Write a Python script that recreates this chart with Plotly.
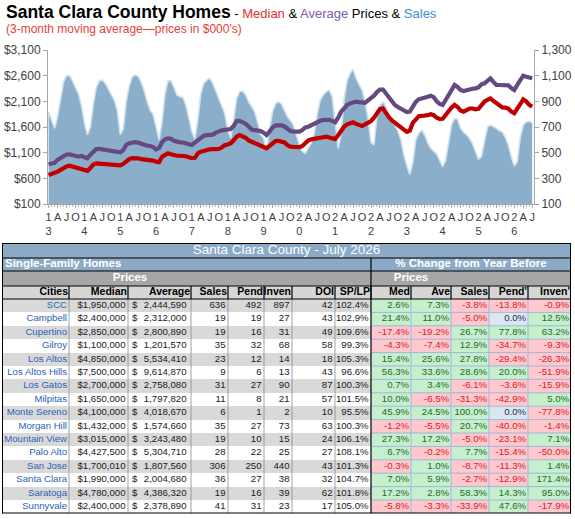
import plotly.graph_objects as go
from itertools import accumulate

# ---------------- chart data: 3-month moving averages, Jan 2003 - Jul 2016 ----------------
median_k = [
    665, 680, 700, 730, 765, 800, 830, 845, 830, 795, 780, 775,
    755, 745, 800, 870, 893, 890, 885, 875, 865, 860, 862, 860,
    855, 880, 940, 975, 995, 1002, 990, 975, 970, 965, 957, 945,
    925, 915, 1020, 1060, 1088, 1070, 1045, 1040, 1040, 1040, 1030, 1010,
    992, 1000, 1088, 1120, 1140, 1152, 1165, 1170, 1170, 1171, 1200, 1245,
    1260, 1282, 1340, 1410, 1444, 1420, 1390, 1340, 1310, 1285, 1260, 1240,
    1210, 1185, 1240, 1300, 1327, 1330, 1325, 1300, 1250, 1216, 1212, 1210,
    1208, 1230, 1300, 1340, 1360, 1365, 1370, 1385, 1400, 1412, 1395, 1370,
    1366, 1440, 1540, 1610, 1652, 1680, 1691, 1660, 1630, 1619, 1652, 1690,
    1717, 1780, 1870, 1950, 1960, 1870, 1790, 1730, 1690, 1650, 1600, 1550,
    1505, 1530, 1680, 1760, 1810, 1815, 1815, 1830, 1850, 1830, 1780, 1756,
    1760, 1840, 1898, 1980, 2030, 1990, 1920, 1898, 1930, 1960, 1960, 1945,
    1955, 2030, 2093, 2130, 2158, 2110, 2060, 2010, 1980, 1977, 1960, 1900,
    1867, 1960, 2060, 2139, 2100, 2030, 1996,
]
average_k = [
    873, 880, 900, 960, 990, 1030, 1065, 1068, 1050, 1025, 1022, 1035,
    1010, 990, 1060, 1120, 1171, 1175, 1165, 1150, 1140, 1132, 1125, 1115,
    1107, 1150, 1249, 1285, 1302, 1305, 1295, 1270, 1255, 1236, 1230, 1210,
    1160, 1190, 1302, 1360, 1380, 1370, 1330, 1310, 1302, 1298, 1290, 1265,
    1249, 1300, 1347, 1400, 1431, 1440, 1444, 1450, 1490, 1522, 1535, 1545,
    1555, 1561, 1620, 1717, 1720, 1690, 1665, 1610, 1550, 1540, 1535, 1522,
    1490, 1444, 1510, 1590, 1630, 1639, 1630, 1610, 1560, 1522, 1510, 1509,
    1509, 1540, 1590, 1606, 1640, 1672, 1700, 1720, 1736, 1740, 1740, 1720,
    1691, 1780, 1900, 1960, 2030, 2061, 2080, 2093, 2085, 2070, 2070, 2120,
    2158, 2210, 2280, 2330, 2330, 2250, 2160, 2080, 2029, 1990, 1964, 1930,
    1890, 1900, 2010, 2090, 2140, 2150, 2160, 2190, 2210, 2180, 2100, 2050,
    2029, 2130, 2256, 2350, 2418, 2380, 2320, 2301, 2320, 2340, 2345, 2353,
    2370, 2430, 2451, 2500, 2548, 2480, 2418, 2418, 2418, 2418, 2410, 2360,
    2321, 2420, 2530, 2599, 2580, 2560, 2548,
]
sales_3mma = [
    819, 745, 690, 780, 925, 1050, 1100, 1100, 1060, 1010, 960, 870,
    730, 640, 700, 880, 1010, 1060, 1066, 1040, 1000, 960, 910, 830,
    640, 680, 900, 1020, 1090, 1105, 1095, 1050, 985, 900, 830, 800,
    700, 600, 740, 960, 1060, 1060, 1010, 950, 936, 930, 870, 767,
    660, 605, 760, 960, 1040, 1066, 1079, 1040, 980, 923, 860, 806,
    676, 612, 760, 923, 975, 980, 950, 895, 860, 819, 740, 640,
    612, 521, 680, 819, 880, 897, 880, 830, 780, 750, 715, 640,
    560, 510, 495, 540, 575, 650, 800, 910, 950, 975, 988, 936,
    720, 534, 650, 920, 1060, 1118, 1150, 1080, 1030, 990, 900, 767,
    580, 560, 780, 870, 897, 860, 780, 740, 715, 670, 600, 480,
    400, 330, 420, 600, 650, 676, 640, 575, 534, 515, 490, 440,
    390, 440, 600, 720, 767, 760, 690, 660, 640, 610, 570, 510,
    450, 470, 600, 700, 715, 705, 690, 670, 660, 620, 560, 470,
    395, 430, 620, 715, 740, 745, 735,
]
quarter_tick_text = ["1", "A", "J", "O"] * 7 + ["2", "A", "J", "O"] * 6 + ["2", "A", "J"]
year_tick_text = ["3", "4", "5", "6", "7", "8", "9", "0", "1", "2", "3", "4", "5", "6"]
price_ticks = [100, 600, 1100, 1600, 2100, 2600, 3100]
price_tick_text = ["$100", "$600", "$1,100", "$1,600", "$2,100", "$2,600", "$3,100"]
sales_ticks = [100, 300, 500, 700, 900, 1100, 1300]
sales_tick_text = ["100", "300", "500", "700", "900", "1,100", "1,300"]

# ---------------- table data ----------------
table_title = "Santa Clara County - July 2026"
left_group = "Single-Family Homes"
right_group = "% Change from Year Before"
sub_group = "Prices"
col_headers = ["Cities", "Median", "Average", "Sales", "Pend", "Inven", "DOI", "SP/LP",
               "Med", "Ave", "Sales", "Pend'", "Inven'"]
cities = ["SCC", "Campbell", "Cupertino", "Gilroy", "Los Altos", "Los Altos Hills", "Los Gatos",
          "Milpitas", "Monte Sereno", "Morgan Hill", "Mountain View", "Palo Alto", "San Jose",
          "Santa Clara", "Saratoga", "Sunnyvale"]
median_price = [1950000, 2400000, 2850000, 1100000, 4850000, 7500000, 2700000, 1650000,
                4100000, 1432000, 3015000, 4427500, 1700010, 1990000, 4780000, 2400000]
average_price = [2444590, 2312000, 2800890, 1201570, 5534410, 9614870, 2758080, 1797820,
                 4018670, 1574660, 3243480, 5304710, 1807560, 2004680, 4386320, 2378890]
sales = [636, 19, 19, 35, 23, 9, 31, 11, 6, 35, 19, 28, 306, 36, 19, 41]
pend = [492, 19, 16, 32, 12, 6, 27, 8, 1, 27, 10, 22, 250, 27, 16, 31]
inven = [897, 27, 31, 68, 14, 13, 90, 21, 2, 73, 15, 25, 440, 38, 39, 23]
doi = [42, 43, 49, 58, 18, 43, 87, 57, 10, 63, 24, 27, 43, 32, 62, 17]
sp_lp = [102.4, 102.9, 109.6, 99.3, 105.3, 96.6, 100.3, 101.5, 95.5, 100.3, 106.1, 108.1,
         101.3, 104.7, 101.8, 105.0]
chg_med = [2.6, 21.4, -17.4, -4.3, 15.4, 56.3, 0.7, 10.0, 45.9, -1.2, 27.3, 6.7, -0.3, 7.0, 17.2, -5.8]
chg_ave = [7.3, 11.0, -19.2, -7.4, 25.6, 33.6, 3.4, -6.5, 24.5, -5.5, 17.2, -0.2, 1.0, 5.9, 2.8, -3.3]
chg_sales = [-3.8, -5.0, 26.7, 12.9, 27.8, 28.6, -6.1, -31.3, 100.0, 20.7, -5.0, 7.7, -8.7, -2.7, 58.3, -33.9]
chg_pend = [-13.8, 0.0, 77.8, -34.7, -29.4, 20.0, -3.6, -42.9, 0.0, -40.0, -23.1, -15.4, -11.3, -12.9, 14.3, 47.6]
chg_inven = [-0.9, 12.5, 63.2, -9.3, -26.3, -51.9, -15.9, 5.0, -77.8, -1.4, 7.1, -50.0, 1.4, 171.4, 95.0, -17.9]

# ---------------- layout constants ----------------
FW, FH = 575, 519
CH_L, CH_R, CH_T, CH_B = 48, 534, 50, 204          # chart plot box (px)
TBL_LEFT, TBL_TOP = 2, 243                           # table origin (px)
col_widths = [67, 59, 63, 37, 36, 28, 43, 36, 40, 40, 38, 39, 43]
row_heights = [15, 13, 15, 13] + [13.4] * len(cities)

FONT = "Liberation Sans, Arial, sans-serif"
AXIS_GRAY = "#A6A6A6"
TICK_COLOR = "#404040"
CELL_SIZE = 9.6


def fx(p):
    return p / FW


def fy(p):
    return 1 - p / FH


months = list(range(len(median_k)))
quarter_vals = months[::3]
year_vals = months[::12]

fig = go.Figure()

# sales area (primary y, drawn first so price lines sit on top)
fig.add_trace(go.Scatter(
    x=months, y=sales_3mma, mode="lines", fill="tozeroy", fillcolor="#8BAFCA",
    line=dict(color="#D3E3EE", width=1.6), xaxis="x", yaxis="y",
    hoverinfo="skip", showlegend=False))
fig.add_trace(go.Scatter(
    x=months, y=average_k, mode="lines", line=dict(color="#644A80", width=4.2),
    xaxis="x", yaxis="y2", hoverinfo="skip", showlegend=False))
fig.add_trace(go.Scatter(
    x=months, y=median_k, mode="lines", line=dict(color="#C00000", width=4.2),
    xaxis="x", yaxis="y2", hoverinfo="skip", showlegend=False))
# carrier trace for the year-label axis
fig.add_trace(go.Scatter(x=[year_vals[0]], y=[None], mode="markers", xaxis="x2", yaxis="y",
                         hoverinfo="skip", showlegend=False))

# ---------------- table (heatmap cells + text) ----------------
x_edges = [0] + list(accumulate(col_widths))
y_edges = [0] + list(accumulate(row_heights))
tbl_w, tbl_h = x_edges[-1], y_edges[-1]
n_cols = len(col_headers)
n_left = 8

palette = ["#FFFFFF", "#D9D9D9", "#D6D6D6", "#8CAAC5", "#C6EFCE", "#FFC7CE", "#DCE6F1", "#A6A6A6"]
nc = len(palette) - 1
cscale = []
for k, c in enumerate(palette):
    cscale.append([max(0.0, (k - 0.5) / nc), c])
    cscale.append([min(1.0, (k + 0.5) / nc), c])

changes = [chg_med, chg_ave, chg_sales, chg_pend, chg_inven]
z = [[3] * n_cols, [3] * n_cols, [7] * n_cols, [2] * n_cols]
for r in range(len(cities)):
    row = [1 if r % 2 == 0 else 0] * n_left
    for series in changes:
        v = series[r]
        row.append(4 if v > 0 else (5 if v < 0 else 6))
    z.append(row)

fig.add_trace(go.Heatmap(
    x=x_edges, y=y_edges, z=z, colorscale=cscale, zmin=0, zmax=nc, showscale=False,
    hoverinfo="skip", xaxis="x3", yaxis="y3"))


def seg_trace(segs, color, width):
    xs, ys = [], []
    for (x0, y0, x1, y1) in segs:
        xs += [x0, x1, None]
        ys += [y0, y1, None]
    return go.Scatter(x=xs, y=ys, mode="lines", line=dict(color=color, width=width),
                      xaxis="x3", yaxis="y3", hoverinfo="skip", showlegend=False,
                      cliponaxis=False)


top_data = y_edges[4]
blue_segs = [(x_edges[n_left], y, tbl_w, y) for y in y_edges[5:-1]]
blue_segs += [(x, top_data, x, tbl_h) for x in x_edges[n_left + 1:-1]]
fig.add_trace(seg_trace(blue_segs, "#9DB8D8", 1))
gray_segs = [(x, top_data, x, tbl_h) for x in x_edges[1:n_left]]
fig.add_trace(seg_trace(gray_segs, "#8C8C8C", 0.8))
black_segs = [(0, y, tbl_w, y) for y in y_edges[1:5]]
black_segs += [(x, y_edges[3], x, y_edges[4]) for x in x_edges[1:-1]]
black_segs += [(x_edges[n_left], y_edges[1], x_edges[n_left], tbl_h)]
fig.add_trace(seg_trace(black_segs, "#000000", 1.2))
fig.add_trace(seg_trace([(0, 0, tbl_w, 0), (tbl_w, 0, tbl_w, tbl_h),
                         (tbl_w, tbl_h, 0, tbl_h), (0, tbl_h, 0, 0)], "#000000", 2))

yc = [(y_edges[k] + y_edges[k + 1]) / 2 for k in range(len(row_heights))]


def text_trace(xs, ys, texts, colors, size, family, position):
    return go.Scatter(x=xs, y=ys, text=texts, mode="text", textposition=position,
                      textfont=dict(color=colors, size=size, family=family),
                      xaxis="x3", yaxis="y3", hoverinfo="skip", showlegend=False,
                      cliponaxis=False)


fig.add_trace(text_trace([tbl_w / 2], [yc[0]], [table_title], "#FFFFFF", 13.5, FONT, "middle center"))
fig.add_trace(text_trace([3], [yc[1]], ["<b>" + left_group + "</b>"], "#FFFFFF", 11.5, FONT, "middle right"))
fig.add_trace(text_trace([(x_edges[n_left] + tbl_w) / 2], [yc[1]], ["<b>" + right_group + "</b>"],
                         "#FFFFFF", 11.5, FONT, "middle center"))
fig.add_trace(text_trace([(x_edges[1] + x_edges[3]) / 2, (x_edges[n_left] + x_edges[n_left + 2]) / 2],
                         [yc[2], yc[2]], ["<b>" + sub_group + "</b>"] * 2, "#FFFFFF", 11.5, FONT,
                         "middle center"))
fig.add_trace(text_trace([x_edges[c + 1] - 1 for c in range(n_cols)], [yc[3]] * n_cols,
                         ["<b>" + h + "</b>" for h in col_headers], "#000000", 10.5, FONT, "middle left"))

city_x, city_y, num_x, num_y, num_t = [], [], [], [], []
chg_x, chg_y, chg_t, chg_c = [], [], [], []
dol_x, dol_y = [], []
for r in range(len(cities)):
    y = yc[4 + r]
    city_x.append(x_edges[1] - 2)
    city_y.append(y)
    vals = [
        "$" + f"{median_price[r]:,}",
        f"{average_price[r]:,}",
        str(sales[r]), str(pend[r]), str(inven[r]), str(doi[r]),
        f"{sp_lp[r]:.1f}%",
    ]
    for j, t in enumerate(vals):
        num_x.append(x_edges[j + 2] - (4.5 if j == 1 else 2.5))
        num_y.append(y)
        num_t.append(t)
    dol_x.append(x_edges[2] + 4)
    dol_y.append(y)
    for j, series in enumerate(changes):
        v = series[r]
        chg_x.append(x_edges[n_left + j + 1] - 2)
        chg_y.append(y)
        chg_t.append(f"{v:.1f}%")
        chg_c.append("#1E6B25" if v > 0 else ("#D42424" if v < 0 else "#1F2F4F"))

fig.add_trace(text_trace(city_x, city_y, cities, "#2C62B5", CELL_SIZE, FONT, "middle left"))
fig.add_trace(text_trace(num_x, num_y, num_t, "#1A1A1A", CELL_SIZE, FONT, "middle left"))
fig.add_trace(text_trace(dol_x, dol_y, ["$"] * len(dol_x), "#1A1A1A", CELL_SIZE, FONT, "middle right"))
fig.add_trace(text_trace(chg_x, chg_y, chg_t, chg_c, CELL_SIZE, FONT, "middle left"))

# ---------------- layout ----------------
tickfont = dict(family=FONT, size=12, color=TICK_COLOR)
fig.update_layout(
    width=FW, height=FH, margin=dict(l=0, r=0, t=0, b=0, autoexpand=False),
    paper_bgcolor="#FFFFFF", plot_bgcolor="rgba(0,0,0,0)", showlegend=False,
    xaxis=dict(domain=[fx(CH_L), fx(CH_R)], range=[-0.2, 162.6], anchor="y",
               tickmode="array", tickvals=quarter_vals, ticktext=quarter_tick_text,
               tickangle=0, automargin=False,
               ticks="outside", ticklen=3, tickcolor=AXIS_GRAY, showline=True,
               linecolor=AXIS_GRAY, linewidth=1, showgrid=False, zeroline=False,
               tickfont=dict(family=FONT, size=11, color=TICK_COLOR),
               minor=dict(tickmode="linear", tick0=0, dtick=1, ticks="outside",
                          ticklen=2, tickcolor="#B8B8B8", showgrid=False),
               fixedrange=True),
    xaxis2=dict(overlaying="x", range=[-0.2, 162.6], anchor="free", position=fy(223),
                side="bottom", tickmode="array", tickvals=year_vals, ticktext=year_tick_text,
                tickangle=0, automargin=False,
                ticks="", showline=False, showgrid=False, zeroline=False,
                tickfont=dict(family=FONT, size=11, color=TICK_COLOR), fixedrange=True),
    yaxis=dict(domain=[fy(CH_B), fy(CH_T)], range=[100, 1300], side="right", anchor="x",
               tickmode="array", tickvals=sales_ticks, ticktext=sales_tick_text,
               automargin=False, ticks="outside",
               ticklen=4, tickcolor=AXIS_GRAY, showline=True, linecolor=AXIS_GRAY,
               showgrid=False, zeroline=False, tickfont=tickfont, fixedrange=True),
    yaxis2=dict(overlaying="y", range=[100, 3100], side="left", anchor="x",
                tickmode="array", tickvals=price_ticks, ticktext=price_tick_text,
                automargin=False,
                ticks="outside", ticklen=4, tickcolor=AXIS_GRAY, showline=True,
                linecolor=AXIS_GRAY, showgrid=False, zeroline=False, tickfont=tickfont,
                fixedrange=True),
    xaxis3=dict(domain=[fx(TBL_LEFT), fx(TBL_LEFT + tbl_w)], range=[0, tbl_w], visible=False,
                anchor="y3", fixedrange=True, automargin=False),
    yaxis3=dict(domain=[fy(TBL_TOP + tbl_h), fy(TBL_TOP)], range=[tbl_h, 0], visible=False,
                anchor="x3", fixedrange=True, automargin=False),
    annotations=[
        dict(x=fx(4), y=fy(12), xref="paper", yref="paper", xanchor="left", yanchor="middle",
             showarrow=False, font=dict(family=FONT, size=17.5, color="#000000"),
             text=("<b>Santa Clara County Homes</b>"
                   "<span style='font-size:13px'> - </span>"
                   "<span style='font-size:13px;color:#E0302E'>Median</span>"
                   "<span style='font-size:13px'> &amp; </span>"
                   "<span style='font-size:13px;color:#7D5BA6'>Average</span>"
                   "<span style='font-size:13px'> Prices &amp; </span>"
                   "<span style='font-size:13px;color:#3C8ED6'>Sales</span>")),
        dict(x=fx(4), y=fy(29.5), xref="paper", yref="paper", xanchor="left", yanchor="middle",
             showarrow=False, font=dict(family=FONT, size=12, color="#E8413A"),
             text="(3-month moving average\u2014prices in $000's)"),
    ],
)

fig.write_html(
    "out.html",
    config={"displayModeBar": False, "staticPlot": True},
    post_script="document.body.style.margin='0';document.body.style.overflow='hidden';",
)
